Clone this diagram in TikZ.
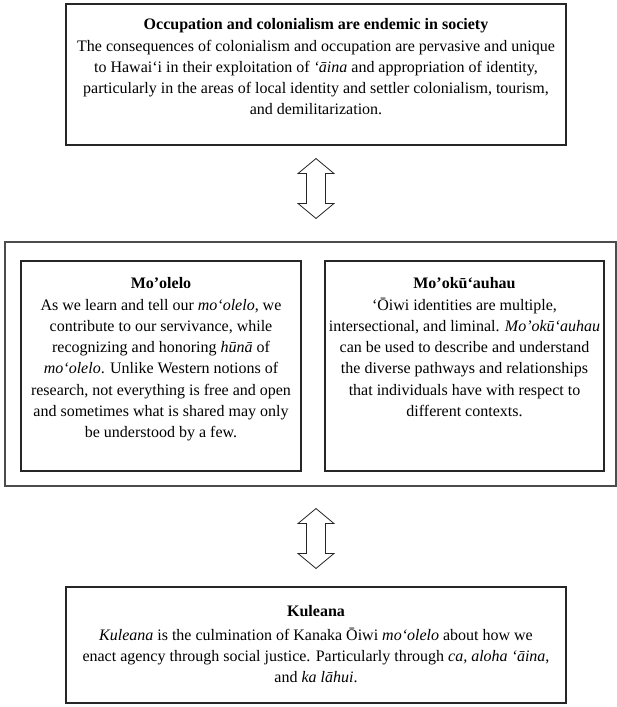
\documentclass[tikz,border=0pt]{standalone}
\usepackage{fontspec}
\setmainfont{Liberation Serif}
\usetikzlibrary{calc}
\tikzset{
  boxframe/.style={draw=black!85, line width=1.1pt, inner sep=0pt},
  boxtext/.style={align=center, inner sep=0pt, anchor=north, font=\fontsize{16}{21.3}\selectfont},
  blockarrow/.style={draw=black!85, line width=0.8pt, fill=white, line join=miter}
}
\newcommand{\dblarrow}[2]{%
  \draw[blockarrow] (#1) -- ++(18,-15) -- ++(-8.5,0) |- ($(#2)+(9.5,15)$) -- ++(8.5,0) -- (#2)
    -- ++(-18,15) -- ++(8.5,0) |- ($(#1)+(-9.5,-15)$) -- ++(-8.5,0) -- cycle;}
\begin{document}
\begin{tikzpicture}[x=1pt,y=1pt]
\useasboundingbox (0,0) rectangle (617,707);
% top box
\node[boxframe, minimum width=500pt, minimum height=141pt] (topbox) at (316,632.5) {};
\node[boxtext] (toptext) at ($(topbox.north)+(0,-15)$) {\textbf{Occupation and colonialism are endemic in society}\\
The consequences of colonialism and occupation are pervasive and unique\\
to Hawai‘i in their exploitation of \textit{‘āina} and appropriation of identity,\\
particularly in the areas of local identity and settler colonialism, tourism,\\
and demilitarization.};
% middle
\node[boxframe, draw=black!70, minimum width=611pt, minimum height=244pt] (midbox) at (310.5,343) {};
\node[boxframe, minimum width=280pt, minimum height=210pt] (leftbox) at (161,341) {};
\node[boxframe, minimum width=279pt, minimum height=210pt] (rightbox) at (464.5,341) {};
\node[boxtext] (lefttext) at ($(leftbox.north)+(0,-17)$) {\textbf{Mo’olelo}\\
As we learn and tell our \textit{mo‘olelo}, we\\
contribute to our servivance, while\\
recognizing and honoring \textit{hūnā} of\\
\textit{mo‘olelo}. Unlike Western notions of\\
research, not everything is free and open\\
and sometimes what is shared may only\\
be understood by a few.};
\node[boxtext] (righttext) at ($(rightbox.north)+(0,-17)$) {\textbf{Mo’okū‘auhau}\\
‘Ōiwi identities are multiple,\\
intersectional, and liminal. \textit{Mo’okū‘auhau}\\
can be used to describe and understand\\
the diverse pathways and relationships\\
that individuals have with respect to\\
different contexts.};
% bottom
\node[boxframe, minimum width=500pt, minimum height=116pt] (botbox) at (316,62) {};
\node[boxtext] (bottext) at ($(botbox.north)+(0,-19)$) {\textbf{Kuleana}\\[2pt]
\textit{Kuleana} is the culmination of Kanaka Ōiwi \textit{mo‘olelo} about how we\\
enact agency through social justice. Particularly through \textit{ca, aloha ‘āina},\\
and \textit{ka lāhui}.};
% arrows
\coordinate (a1t) at ($(topbox.south)+(0,-13)$);
\coordinate (a1b) at ($(midbox.north)+(5.5,23)$);
\coordinate (a2t) at ($(midbox.south)+(5.5,-22)$);
\coordinate (a2b) at ($(botbox.north)+(0,18)$);
\dblarrow{a1t}{a1b}
\dblarrow{a2t}{a2b}
\end{tikzpicture}
\end{document}
